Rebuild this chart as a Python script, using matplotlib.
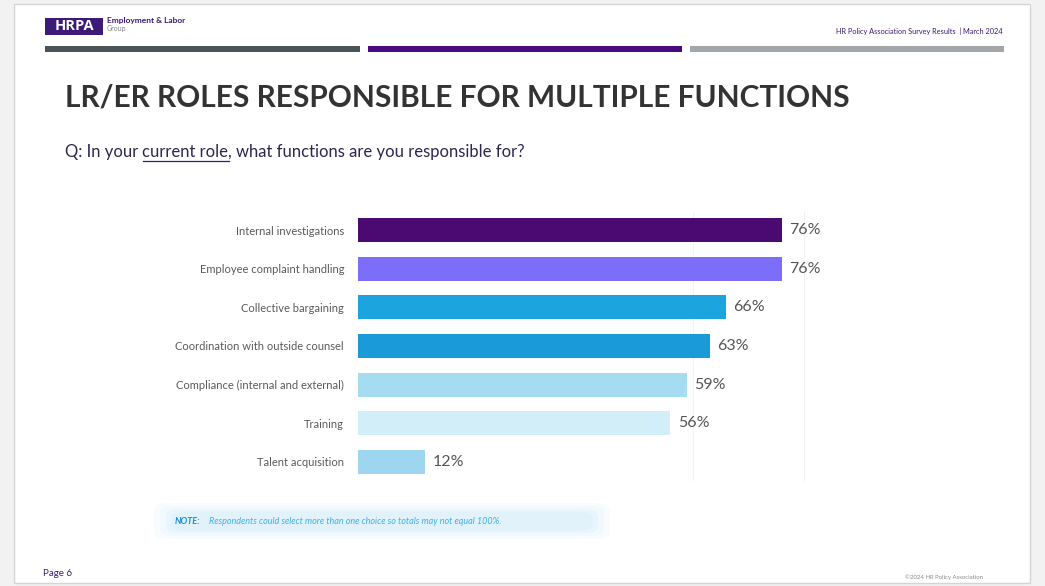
import matplotlib
matplotlib.use("Agg")
import matplotlib.pyplot as plt
from matplotlib.patches import Rectangle, FancyBboxPatch

# data
functions = [
    "Internal investigations",
    "Employee complaint handling",
    "Collective bargaining",
    "Coordination with outside counsel",
    "Compliance (internal and external)",
    "Training",
    "Talent acquisition",
]
shares = [76, 76, 66, 63, 59, 56, 12]
bar_colors = ["#4a0a72", "#7c6ef8", "#1ca4de", "#1a9ad8", "#a6dcf2", "#d2eef9", "#9ed6ef"]

W, H = 1045, 586
plt.rcParams["font.family"] = ["Lato", "DejaVu Sans"]

fig = plt.figure(figsize=(W / 100, H / 100), dpi=100)
fig.patch.set_facecolor("#f2f2f2")


def fx(px):
    return px / W


def fy(py):
    return 1 - py / H


# slide background
fig.patches.append(Rectangle((fx(14), fy(583)), fx(1030 - 14), (583 - 4) / H,
                             transform=fig.transFigure, facecolor="white",
                             edgecolor="#d4d4d4", lw=1, zorder=-5))

# header: logo + strip
fig.patches.append(Rectangle((fx(45), fy(35)), fx(58), 17 / H, transform=fig.transFigure,
                             facecolor="#3d1a78", edgecolor="none", zorder=1))
fig.text(fx(74), fy(26.5), "HRPA", color="white", fontsize=10.5, fontweight="bold",
         ha="center", va="center", family=["Open Sans", "DejaVu Sans"])
fig.text(fx(107), fy(21), "Employment & Labor", color="#3d1a78", fontsize=6,
         fontweight="bold", ha="left", va="center")
fig.text(fx(107), fy(29), "Group", color="#888888", fontsize=5, ha="left", va="center")
fig.text(fx(1003), fy(31), "HR Policy Association Survey Results  | March 2024",
         color="#3d1a78", fontsize=5.3, ha="right", va="center")

for x0, x1, c in [(45, 360, "#4b5459"), (368, 682, "#4a0a80"), (690, 1004, "#a3a7aa")]:
    fig.patches.append(Rectangle((fx(x0), fy(52)), fx(x1 - x0), 6 / H,
                                 transform=fig.transFigure, facecolor=c,
                                 edgecolor="none", zorder=1))

# title
fig.text(fx(65), fy(98), "LR/ER ROLES RESPONSIBLE FOR MULTIPLE FUNCTIONS",
         color="#333333", fontsize=21.5, fontweight="bold", ha="left", va="center")

# subtitle with underlined words
renderer = fig.canvas.get_renderer()
sub_parts = ["Q: In your ", "current role", ", what functions are you responsible for?"]
x_cur = fx(65)
for i, part in enumerate(sub_parts):
    t = fig.text(x_cur, fy(152), part, color="#2e2550", fontsize=12, ha="left",
                 va="center")
    bb = t.get_window_extent(renderer=renderer)
    if i == 1:
        fig.lines.append(plt.Line2D([bb.x0 / W, bb.x1 / W], [fy(161), fy(161)],
                                    transform=fig.transFigure, color="#3d1a78", lw=0.9))
    x_cur = bb.x1 / W

# bar chart
ax = fig.add_axes([fx(358), fy(481), fx(558), 270 / H])
ax.set_zorder(3)
ypos = list(range(len(functions)))
ax.barh(ypos, shares, height=0.62, color=bar_colors, zorder=2)
for y, v in zip(ypos, shares):
    ax.text(v + 1.3, y, f"{v}%", ha="left", va="center", fontsize=11.5, color="#555555")
ax.set_xlim(0, 100)
ax.set_ylim(6.5, -0.5)
ax.set_yticks(ypos)
ax.set_yticklabels(functions, fontsize=8, color="#5a5a5a")
ax.tick_params(axis="y", length=0, pad=10)
ax.set_xticks([60, 80])
ax.tick_params(axis="x", length=0, labelbottom=False)
ax.grid(axis="x", color="#f2f2f2", lw=0.8, zorder=0)
for s in ax.spines.values():
    s.set_visible(False)
ax.set_facecolor("none")

# note with soft glow
for pad, a in [(18, 0.15), (12, 0.2), (6, 0.3), (1, 0.35)]:
    fig.patches.append(FancyBboxPatch((fx(172 - pad), fy(530 + pad * 0.5)),
                                      fx(420 + 2 * pad), (18 + pad) / H,
                                      boxstyle="round,pad=0,rounding_size=0.012",
                                      transform=fig.transFigure, facecolor="#d6effb",
                                      edgecolor="none", alpha=a, zorder=1))
fig.text(fx(175), fy(521), "NOTE:", color="#1a8fd0", fontsize=6.5, fontweight="bold",
         style="italic", ha="left", va="center")
fig.text(fx(209), fy(521),
         "Respondents could select more than one choice so totals may not equal 100%.",
         color="#3fb0e6", fontsize=6.5, style="italic", ha="left", va="center")

# footer
fig.text(fx(43), fy(573), "Page 6", color="#3d1a78", fontsize=7, ha="left", va="center")
fig.text(fx(905), fy(577), "\u00a92024 HR Policy Association", color="#888888",
         fontsize=4.3, ha="left", va="center")

fig.savefig("out.png", dpi=100, facecolor=fig.get_facecolor())
